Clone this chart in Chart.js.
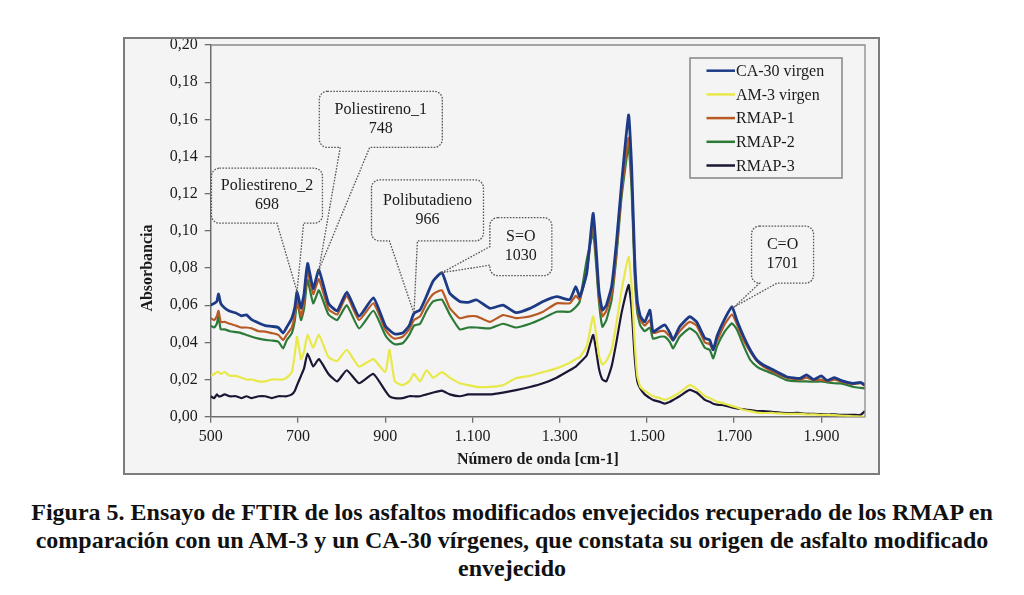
<!DOCTYPE html>
<html>
<head>
<meta charset="utf-8">
<script src="https://cdn.jsdelivr.net/npm/chart.js@4.4.0/dist/chart.umd.min.js"></script>
<style>
body{margin:0;background:#fff;width:1024px;height:595px;overflow:hidden;position:relative;font-family:"Liberation Serif",serif}
#box{position:absolute;left:123px;top:37px;width:757px;height:438px;box-sizing:border-box;border:2px solid #7c7c7c;background:#f4f4f4}
#wrap{position:absolute;left:0;top:0;width:753px;height:434px}
#caption{position:absolute;left:0;top:498px;width:1024px;text-align:center;font-weight:bold;font-size:24px;line-height:28px;color:#111;white-space:nowrap}
</style>
</head>
<body>
<div id="box"><div id="wrap"><canvas id="chart"></canvas></div></div>
<div id="caption">Figura 5. Ensayo de FTIR de los asfaltos modificados envejecidos recuperado de los RMAP en<br>comparación con un AM-3 y un CA-30 vírgenes, que constata su origen de asfalto modificado<br>envejecido</div>
<script>
// numero de onda (cm-1)
const wavenumbers = [500,508,514,518,523,532,544,558,570,582,594,610,625,640,655,666,674,686,693,698,
  707,714,722,735,748,770,790,812,840,873,900,910,922,940,955,966,980,995,1010,1030,
  1048,1071,1090,1110,1140,1170,1200,1232,1262,1293,1323,1337,1346,1362,1377,1390,1398,1407,1419,1430,
  1442,1458,1465,1472,1478,1485,1495,1507,1514,1530,1541,1553,1560,1575,1598,1614,1633,1644,1652,1661,
  1679,1695,1706,1722,1737,1752,1767,1790,1820,1851,1866,1882,1900,1913,1930,1943,1960,1974,1990,2000];

const ca30 = [0.060,0.061,0.062,0.066,0.061,0.0585,0.0567,0.0558,0.0543,0.0548,0.0522,0.0504,0.049,0.0486,0.048,0.045,0.048,0.053,0.059,0.0673,
  0.0585,0.066,0.0825,0.069,0.079,0.061,0.057,0.067,0.054,0.064,0.049,0.0465,0.0445,0.045,0.049,0.0556,0.0575,0.065,0.073,0.0775,
  0.0664,0.062,0.0615,0.0628,0.0583,0.060,0.056,0.0583,0.062,0.0646,0.063,0.070,0.0646,0.0772,0.1094,0.068,0.0574,0.060,0.070,0.0933,
  0.1256,0.1623,0.1345,0.085,0.062,0.054,0.051,0.0573,0.0457,0.048,0.0494,0.045,0.0413,0.0484,0.0538,0.051,0.0422,0.0413,0.036,0.0435,
  0.0529,0.0592,0.052,0.043,0.0359,0.0305,0.0278,0.0251,0.0215,0.0206,0.0225,0.020,0.022,0.0195,0.021,0.0197,0.0185,0.0179,0.0185,0.017];

const am3 = [0.022,0.023,0.024,0.024,0.023,0.024,0.022,0.022,0.021,0.020,0.020,0.019,0.019,0.020,0.020,0.020,0.021,0.024,0.034,0.043,
  0.031,0.035,0.044,0.037,0.044,0.032,0.030,0.036,0.027,0.031,0.024,0.036,0.019,0.017,0.019,0.023,0.019,0.025,0.021,0.024,
  0.021,0.018,0.017,0.016,0.016,0.017,0.0207,0.022,0.024,0.026,0.029,0.031,0.032,0.038,0.054,0.033,0.028,0.030,0.036,0.050,
  0.068,0.086,0.070,0.040,0.022,0.016,0.014,0.012,0.011,0.010,0.009,0.010,0.011,0.013,0.017,0.015,0.011,0.010,0.009,0.008,
  0.007,0.0058,0.005,0.0036,0.003,0.0022,0.002,0.002,0.0015,0.0015,0.0012,0.0012,0.001,0.001,0.0008,0.0006,0.0004,0.0002,0.0001,0];

const rmap1 = [0.053,0.052,0.054,0.057,0.051,0.051,0.050,0.049,0.048,0.048,0.0475,0.046,0.0458,0.045,0.044,0.0413,0.044,0.048,0.055,0.063,
  0.054,0.062,0.078,0.066,0.074,0.058,0.055,0.065,0.052,0.061,0.047,0.044,0.042,0.043,0.047,0.052,0.054,0.061,0.066,0.068,
  0.0585,0.053,0.054,0.054,0.051,0.0547,0.053,0.054,0.0565,0.061,0.061,0.065,0.063,0.078,0.104,0.064,0.054,0.057,0.066,0.088,
  0.121,0.150,0.128,0.080,0.059,0.052,0.049,0.052,0.045,0.046,0.046,0.043,0.041,0.046,0.051,0.049,0.040,0.039,0.036,0.041,
  0.050,0.055,0.050,0.041,0.035,0.030,0.027,0.024,0.021,0.020,0.021,0.0195,0.020,0.019,0.020,0.019,0.018,0.0175,0.018,0.0165];

const rmap2 = [0.049,0.048,0.050,0.054,0.047,0.047,0.046,0.0455,0.045,0.044,0.043,0.042,0.0413,0.041,0.0404,0.0368,0.041,0.045,0.052,0.062,
  0.052,0.058,0.0736,0.061,0.068,0.055,0.052,0.060,0.0475,0.057,0.044,0.041,0.039,0.0395,0.044,0.049,0.050,0.057,0.062,0.063,
  0.055,0.047,0.048,0.048,0.0475,0.050,0.048,0.050,0.053,0.0565,0.0565,0.059,0.062,0.0843,0.0987,0.062,0.0484,0.052,0.0628,0.086,
  0.1184,0.1453,0.122,0.076,0.056,0.049,0.046,0.048,0.042,0.043,0.043,0.040,0.0368,0.043,0.0475,0.045,0.037,0.036,0.0314,0.038,
  0.046,0.0502,0.047,0.038,0.0305,0.027,0.0251,0.023,0.0197,0.019,0.019,0.0188,0.019,0.0185,0.018,0.0179,0.017,0.016,0.0155,0.0152];

const rmap3 = [0.011,0.010,0.012,0.011,0.011,0.012,0.011,0.011,0.010,0.011,0.010,0.011,0.011,0.010,0.011,0.011,0.011,0.012,0.014,0.017,
  0.022,0.026,0.034,0.027,0.031,0.023,0.019,0.025,0.018,0.023,0.014,0.011,0.010,0.010,0.011,0.011,0.011,0.012,0.013,0.014,
  0.012,0.011,0.012,0.012,0.012,0.013,0.0143,0.016,0.018,0.021,0.025,0.027,0.029,0.033,0.044,0.026,0.020,0.019,0.027,0.040,
  0.056,0.0709,0.058,0.032,0.019,0.015,0.012,0.010,0.009,0.008,0.007,0.008,0.009,0.011,0.0144,0.013,0.009,0.008,0.007,0.0065,
  0.006,0.005,0.0045,0.004,0.0035,0.003,0.003,0.0025,0.002,0.002,0.0015,0.0015,0.0014,0.0012,0.0012,0.001,0.001,0.001,0.001,0.003];

const seriesNames = ['CA-30 virgen', 'AM-3 virgen', 'RMAP-1', 'RMAP-2', 'RMAP-3'];
const seriesValues = [ca30, am3, rmap1, rmap2, rmap3];
const seriesColors = ['#1d3a86', '#e8e84a', '#b85a24', '#2b7a38', '#1b1634'];
const xTicks = [500, 700, 900, 1100, 1300, 1500, 1700, 1900];
const yTicks = [0, 0.02, 0.04, 0.06, 0.08, 0.10, 0.12, 0.14, 0.16, 0.18, 0.20];

// globos de anotacion: texto, punto señalado (x, y), centro del globo (x, y) + tamaño en px
const callouts = [
  {lines: ['Poliestireno_2', '698'], at: [698, 0.0673], box: [629, 0.1189, 111, 55], side: 'bottom', base: [0.59, 0.83]},
  {lines: ['Poliestireno_1', '748'], at: [748, 0.079], box: [890, 0.160, 123, 56], side: 'bottom', base: [0.17, 0.41]},
  {lines: ['Polibutadieno', '966'], at: [966, 0.0556], box: [997, 0.111, 112, 61], side: 'bottom', base: [0.16, 0.41]},
  {lines: ['S=O', '1030'], at: [1030, 0.0775], box: [1211, 0.0915, 62, 58], side: 'left', base: [0.5, 0.82]},
  {lines: ['C=O', '1701'], at: [1701, 0.0592], box: [1811, 0.0872, 62, 57], side: 'bottom', base: [0.13, 0.41]}
];

const BG = '#f4f4f4';
const SERIF = '"Liberation Serif", "Times New Roman", serif';

function fmtX(v) {
  return v >= 1000 ? Math.floor(v / 1000) + '.' + String(v % 1000).padStart(3, '0') : String(v);
}

function drawCallout(ctx, c, x, y) {
  const tx = x.getPixelForValue(c.at[0]), ty = y.getPixelForValue(c.at[1]);
  const cx = x.getPixelForValue(c.box[0]), cy = y.getPixelForValue(c.box[1]);
  const w = c.box[2], h = c.box[3], r = 8;
  const L = cx - w / 2, R = cx + w / 2, T = cy - h / 2, B = cy + h / 2;

  ctx.fillStyle = BG;
  ctx.beginPath();
  ctx.roundRect(L, T, w, h, r);
  ctx.fill();

  ctx.beginPath();
  ctx.moveTo(L + r, T);
  ctx.lineTo(R - r, T); ctx.arcTo(R, T, R, T + r, r);
  ctx.lineTo(R, B - r); ctx.arcTo(R, B, R - r, B, r);
  if (c.side === 'bottom') {
    ctx.lineTo(L + c.base[1] * w, B);
    ctx.lineTo(tx, ty);
    ctx.lineTo(L + c.base[0] * w, B);
  }
  ctx.lineTo(L + r, B); ctx.arcTo(L, B, L, B - r, r);
  if (c.side === 'left') {
    ctx.lineTo(L, T + c.base[1] * h);
    ctx.lineTo(tx, ty);
    ctx.lineTo(L, T + c.base[0] * h);
  }
  ctx.lineTo(L, T + r); ctx.arcTo(L, T, L + r, T, r);
  ctx.closePath();
  ctx.setLineDash([1.6, 1.4]);
  ctx.strokeStyle = '#555';
  ctx.lineWidth = 1.3;
  ctx.stroke();
  ctx.setLineDash([]);

  ctx.fillStyle = '#1a1a1a';
  ctx.font = '16px ' + SERIF;
  ctx.textAlign = 'center';
  ctx.textBaseline = 'middle';
  ctx.fillText(c.lines[0], cx, cy - 9.5);
  ctx.fillText(c.lines[1], cx, cy + 9.5);
}

const decor = {
  id: 'decor',
  afterDatasetsDraw(chart) {
    const {ctx, chartArea: a, scales: {x, y}} = chart;
    ctx.save();
    // marco superior y derecho del area de trazado
    ctx.strokeStyle = '#8a8a8a';
    ctx.lineWidth = 1.3;
    ctx.beginPath();
    ctx.moveTo(a.left, a.top);
    ctx.lineTo(a.right, a.top);
    ctx.lineTo(a.right, a.bottom);
    ctx.stroke();

    callouts.forEach(c => drawCallout(ctx, c, x, y));

    // leyenda
    const lw = 152, lh = 120;
    const lx = a.right - 23 - lw, ly = a.top + 13;
    ctx.fillStyle = BG;
    ctx.fillRect(lx, ly, lw, lh);
    ctx.strokeStyle = '#858585';
    ctx.lineWidth = 1.5;
    ctx.strokeRect(lx, ly, lw, lh);
    ctx.font = '16px ' + SERIF;
    ctx.textAlign = 'left';
    ctx.textBaseline = 'middle';
    chart.data.datasets.forEach((ds, i) => {
      const ry = ly + 12.7 + i * 23.7;
      ctx.strokeStyle = ds.borderColor;
      ctx.lineWidth = 2.5;
      ctx.beginPath();
      ctx.moveTo(lx + 16.5, ry);
      ctx.lineTo(lx + 45, ry);
      ctx.stroke();
      ctx.fillStyle = '#1a1a1a';
      ctx.fillText(ds.label, lx + 46, ry + 1);
    });

    // titulo del eje Y
    ctx.save();
    ctx.translate(23, a.top + 0.6 * (a.bottom - a.top));
    ctx.rotate(-Math.PI / 2);
    ctx.font = 'bold 16px ' + SERIF;
    ctx.textAlign = 'center';
    ctx.textBaseline = 'middle';
    ctx.fillStyle = '#1a1a1a';
    ctx.fillText('Absorbancia', 0, 0);
    ctx.restore();

    ctx.restore();
  }
};

const ctx = document.getElementById('chart').getContext('2d');

new Chart(ctx, {
  type: 'line',
  data: {
    datasets: seriesNames.map((name, i) => ({
      label: name,
      data: wavenumbers.map((w, j) => ({x: w, y: seriesValues[i][j]})),
      borderColor: seriesColors[i],
      borderWidth: i === 0 ? 2.8 : 2.2,
      pointRadius: 0,
      fill: false,
      tension: 0.15
    }))
  },
  options: {
    responsive: true,
    maintainAspectRatio: false,
    animation: false,
    layout: {padding: {top: 6, right: 13, left: 0, bottom: 0}},
    plugins: {
      legend: {display: false},
      tooltip: {enabled: false}
    },
    scales: {
      x: {
        type: 'linear',
        min: 500,
        max: 2000,
        afterBuildTicks: s => { s.ticks = xTicks.map(v => ({value: v})); },
        afterFit: s => { s.height = 56.3; s.paddingLeft = 0; s.paddingRight = 0; },
        ticks: {
          autoSkip: false,
          maxRotation: 0,
          padding: 4,
          color: '#1a1a1a',
          font: {family: SERIF, size: 16},
          callback: v => fmtX(v)
        },
        grid: {drawOnChartArea: false, tickLength: 6, color: '#6e6e6e', lineWidth: 1.3},
        border: {display: true, color: '#6e6e6e', width: 1.5},
        title: {
          display: true,
          text: 'Número de onda [cm-1]',
          color: '#1a1a1a',
          font: {family: SERIF, size: 16, weight: 'bold'},
          padding: {top: 0, bottom: 4}
        }
      },
      y: {
        min: 0,
        max: 0.2,
        afterBuildTicks: s => { s.ticks = yTicks.map(v => ({value: v})); },
        afterFit: s => { s.width = 85.7; s.paddingTop = 0; s.paddingBottom = 0; },
        ticks: {
          padding: 7,
          color: '#1a1a1a',
          font: {family: SERIF, size: 16},
          callback: v => v.toFixed(2).replace('.', ',')
        },
        grid: {drawOnChartArea: false, tickLength: 6, color: '#6e6e6e', lineWidth: 1.3},
        border: {display: true, color: '#6e6e6e', width: 1.5}
      }
    }
  },
  plugins: [decor]
});
</script>
</body>
</html>
